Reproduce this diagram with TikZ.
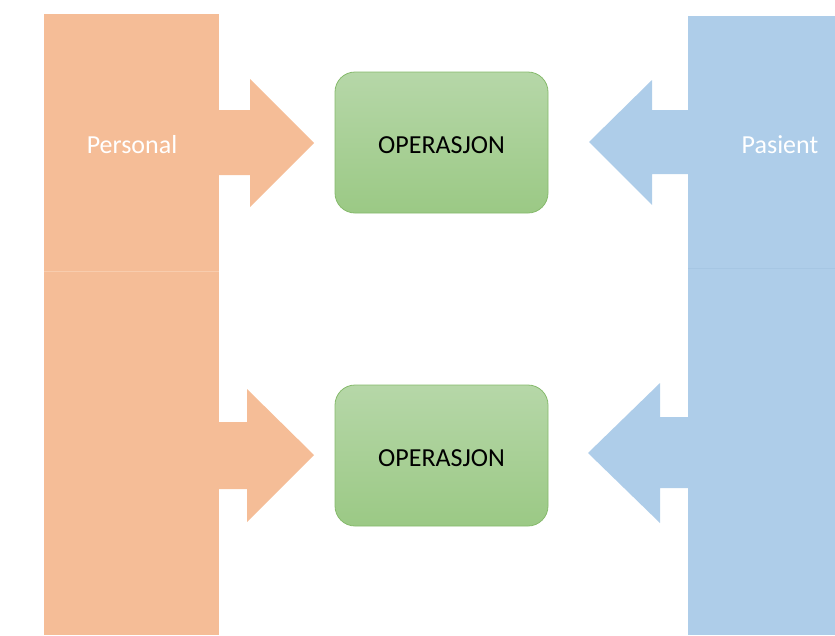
\documentclass[tikz,border=0pt]{standalone}
\usepackage{fontspec}
\setmainfont{Carlito}
\definecolor{orng}{HTML}{F5BD97}
\definecolor{orngline}{HTML}{F8CCAD}
\definecolor{blu}{HTML}{AECDE9}
\definecolor{bluline}{HTML}{A6C6E3}
\definecolor{gtop}{HTML}{B6D7A8}
\definecolor{gbot}{HTML}{9BC985}
\definecolor{gedge}{HTML}{86BA6C}
\begin{document}
\begin{tikzpicture}[x=1pt,y=-1pt,
  colbox/.style={rectangle,inner sep=0pt,outer sep=0pt,anchor=north west},
  optbox/.style={rectangle,rounded corners=20pt,draw=gedge,line width=0.8pt,
     top color=gtop,bottom color=gbot,minimum width=213pt,minimum height=141pt,
     inner sep=0pt,text=black},
  optlabel/.style={font=\fontsize{26}{30}\selectfont,text=black},
  coltext/.style={font=\fontsize{26}{30}\selectfont,text=white}]
\useasboundingbox (0,0) rectangle (835,635);
% columns
\node[colbox,fill=orng,minimum width=175pt,minimum height=621pt] (pcol) at (44,14) {};
\node[colbox,fill=blu,minimum width=147pt,minimum height=619pt] (bcol) at (688,16) {};
\draw[orngline,line width=0.8pt] (44,271) -- (219,271);
\draw[bluline,line width=0.8pt] (688,268) -- (835,268);
% labels
\node[coltext] (personal) at (132,145) {Personal};
\node[coltext] (pasient) at (780,145) {Pasient};
% left arrows
\fill[orng] (218,110) -- (250,110) -- (250,79) -- (314,143) -- (250,207) -- (250,175) -- (218,175) -- cycle;
\fill[orng] (218,422) -- (247,422) -- (247,389) -- (314,455) -- (247,522) -- (247,489) -- (218,489) -- cycle;
% right arrows
\fill[blu] (689,110) -- (652,110) -- (652,80) -- (589,142) -- (652,205) -- (652,174) -- (689,174) -- cycle;
\fill[blu] (689,417) -- (660,417) -- (660,383) -- (588,453) -- (660,523) -- (660,488) -- (689,488) -- cycle;
% boxes
\node[optbox] (op1) at (441.5,142.5) {};
\node[optbox] (op2) at (441.5,455.5) {};
\node[optlabel] (op1t) at (441.5,145) {OPERASJON};
\node[optlabel] (op2t) at (441.5,458) {OPERASJON};
\end{tikzpicture}
\end{document}
